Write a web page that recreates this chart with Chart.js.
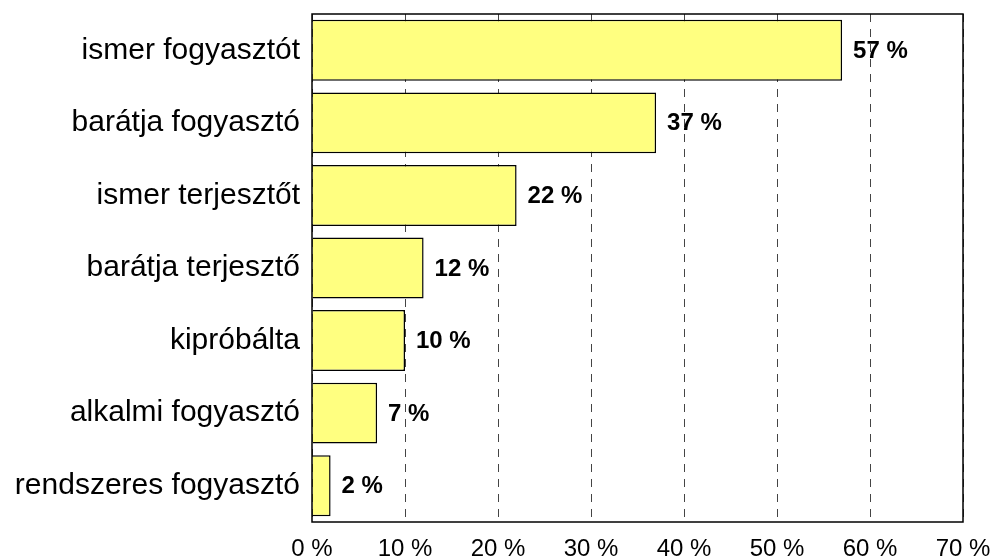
<!DOCTYPE html>
<html>
<head>
<meta charset="utf-8">
<script src="https://cdn.jsdelivr.net/npm/chart.js@4"></script>
<style>
  html, body { margin: 0; padding: 0; background: #fff; }
  #wrap { width: 993px; height: 559px; position: relative; }
</style>
</head>
<body>
<div id="wrap"><canvas id="chart"></canvas></div>
<script>
// --- DATA ---
const categories = ["ismer fogyasztót", "barátja fogyasztó", "ismer terjesztőt", "barátja terjesztő", "kipróbálta", "alkalmi fogyasztó", "rendszeres fogyasztó"];
const shares = [57, 37, 22, 12, 10, 7, 2];
const tickValues = [0, 10, 20, 30, 40, 50, 60, 70];

const FONT = "'Liberation Sans', Arial, sans-serif";

// value labels to the right of each bar
const barLabels = {
    id: "barLabels",
    afterDatasetsDraw(chart) {
        const ctx = chart.ctx;
        ctx.save();
        ctx.font = "bold 24px " + FONT;
        ctx.fillStyle = "#000";
        ctx.textAlign = "left";
        ctx.textBaseline = "middle";
        chart.getDatasetMeta(0).data.forEach((bar, i) => {
            ctx.fillText(shares[i] + " %", bar.x + 11, bar.y + 1);
        });
        ctx.restore();
    }
};

// solid frame round the plot area
const frame = {
    id: "frame",
    afterDraw(chart) {
        const a = chart.chartArea, ctx = chart.ctx;
        ctx.save();
        ctx.strokeStyle = "#000";
        ctx.lineWidth = 1.5;
        ctx.strokeRect(a.left, a.top, a.right - a.left, a.bottom - a.top);
        ctx.restore();
    }
};

new Chart(document.getElementById("chart"), {
    type: "bar",
    data: {
        labels: categories,
        datasets: [{
            data: shares,
            backgroundColor: "#FFFF80",
            borderColor: "#000",
            borderWidth: 1.5,
            categoryPercentage: 1,
            barPercentage: 0.84
        }]
    },
    options: {
        indexAxis: "y",
        responsive: true,
        maintainAspectRatio: false,
        animation: false,
        layout: { padding: { top: 14, right: 30, left: 0, bottom: 0 } },
        plugins: { legend: { display: false }, tooltip: { enabled: false } },
        scales: {
            x: {
                min: 0, max: 70,
                afterBuildTicks: s => { s.ticks = tickValues.map(v => ({ value: v })); },
                afterFit: s => { s.height = 37; s.paddingLeft = 0; s.paddingRight = 0; },
                grid: { color: "#444", lineWidth: 1, drawTicks: false },
                border: { display: false, dash: [8, 7] },
                ticks: {
                    autoSkip: false, maxRotation: 0, padding: 13,
                    color: "#000", font: { family: FONT, size: 24 },
                    callback: v => v + " %"
                }
            },
            y: {
                afterFit: s => { s.width = 312; s.paddingTop = 0; s.paddingBottom = 0; },
                grid: { display: false, drawTicks: false },
                border: { display: false },
                ticks: { padding: 12, color: "#000", font: { family: FONT, size: 30 } }
            }
        }
    },
    plugins: [barLabels, frame]
});
</script>
</body>
</html>
